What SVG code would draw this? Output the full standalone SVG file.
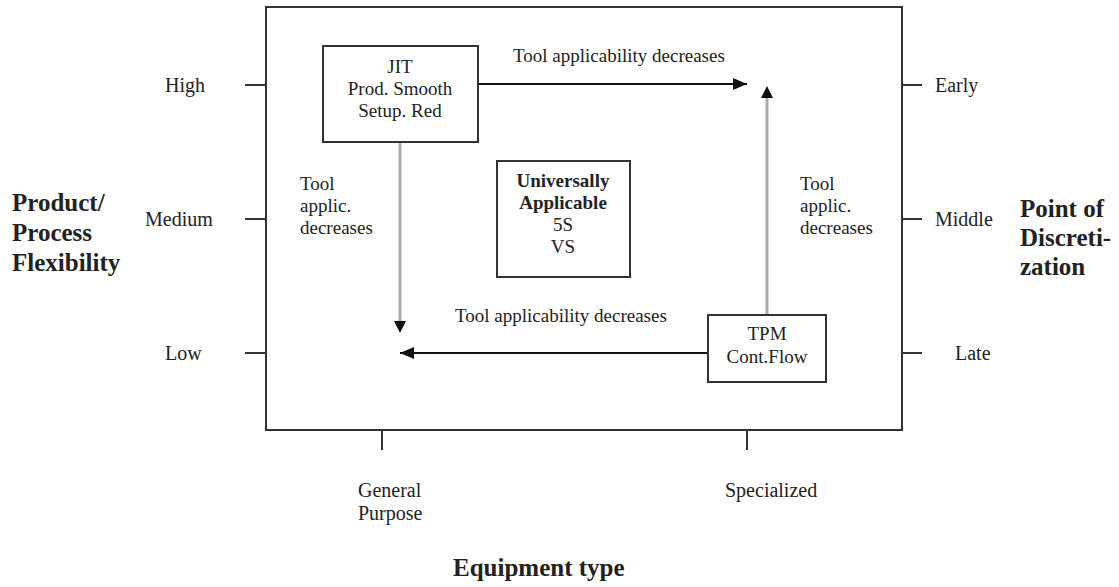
<svg xmlns="http://www.w3.org/2000/svg" width="1119" height="587" viewBox="0 0 1119 587">
  <defs>
    <style>
      .t { font-family: "Liberation Serif", "Times New Roman", serif; font-size: 19px; fill: #222; }
      .ax { font-family: "Liberation Serif", "Times New Roman", serif; font-size: 20px; fill: #222; }
      .b { font-family: "Liberation Serif", "Times New Roman", serif; font-size: 25px; font-weight: bold; fill: #222; }
      .bi { font-family: "Liberation Serif", "Times New Roman", serif; font-size: 19px; font-weight: bold; fill: #222; }
      .frame { fill: none; stroke: #333; stroke-width: 2; }
      .box { fill: #fff; stroke: #333; stroke-width: 2; }
      .tick { stroke: #333; stroke-width: 2; }
      .blk { stroke: #111; stroke-width: 2; fill: none; }
      .gry { stroke: #aaa; stroke-width: 3; fill: none; }
    </style>
    <marker id="head" viewBox="0 0 14 12" refX="14" refY="6" markerWidth="14" markerHeight="12" markerUnits="userSpaceOnUse" orient="auto">
      <path d="M0,0 L14,6 L0,12 Z" fill="#111"/>
    </marker>
  </defs>

  <!-- chart frame and axis ticks -->
  <g id="frame">
    <rect class="frame" x="266" y="7" width="636" height="423"/>
    <line class="tick" x1="245" y1="85" x2="266" y2="85"/>
    <line class="tick" x1="245" y1="219" x2="266" y2="219"/>
    <line class="tick" x1="245" y1="353" x2="266" y2="353"/>
    <line class="tick" x1="902" y1="85" x2="922" y2="85"/>
    <line class="tick" x1="902" y1="219" x2="922" y2="219"/>
    <line class="tick" x1="902" y1="353" x2="922" y2="353"/>
    <line class="tick" x1="382" y1="430" x2="382" y2="450"/>
    <line class="tick" x1="747" y1="430" x2="747" y2="450"/>
  </g>

  <!-- axis labels -->
  <g id="axis-left">
    <text class="ax" x="165" y="92">High</text>
    <text class="ax" x="145" y="226">Medium</text>
    <text class="ax" x="165" y="360">Low</text>
    <text class="b" x="12" y="211">Product/</text>
    <text class="b" x="12" y="241">Process</text>
    <text class="b" x="12" y="271">Flexibility</text>
  </g>
  <g id="axis-right">
    <text class="ax" x="935" y="92">Early</text>
    <text class="ax" x="935" y="226">Middle</text>
    <text class="ax" x="955" y="360">Late</text>
    <text class="b" x="1020" y="217">Point of</text>
    <text class="b" x="1020" y="246">Discreti-</text>
    <text class="b" x="1020" y="275">zation</text>
  </g>
  <g id="axis-bottom">
    <text class="ax" x="358" y="497">General</text>
    <text class="ax" x="358" y="520">Purpose</text>
    <text class="ax" x="725" y="497">Specialized</text>
    <text class="b" x="453" y="576">Equipment type</text>
  </g>

  <!-- connectors -->
  <g id="connectors">
    <line class="blk" x1="478" y1="84" x2="747" y2="84" marker-end="url(#head)"/>
    <line class="gry" x1="767" y1="315" x2="767" y2="98"/>
    <path d="M761,98 L767,86 L773,98 Z" fill="#111"/>
    <line class="gry" x1="400" y1="142" x2="400" y2="321"/>
    <path d="M394,321 L400,333 L406,321 Z" fill="#111"/>
    <line class="blk" x1="708" y1="353" x2="400" y2="353" marker-end="url(#head)"/>
    <text class="t" x="513" y="62">Tool applicability decreases</text>
    <text class="t" x="455" y="322">Tool applicability decreases</text>
    <text class="t" x="300" y="190">Tool</text>
    <text class="t" x="300" y="212">applic.</text>
    <text class="t" x="300" y="234">decreases</text>
    <text class="t" x="800" y="190">Tool</text>
    <text class="t" x="800" y="212">applic.</text>
    <text class="t" x="800" y="234">decreases</text>
  </g>

  <!-- nodes -->
  <g id="jit">
    <rect class="box" x="323" y="46" width="155" height="96"/>
    <text class="t" x="400" y="73" text-anchor="middle">JIT</text>
    <text class="t" x="400" y="95" text-anchor="middle">Prod. Smooth</text>
    <text class="t" x="400" y="117" text-anchor="middle">Setup. Red</text>
  </g>
  <g id="universal">
    <rect class="box" x="497" y="161" width="133" height="116"/>
    <text class="bi" x="563" y="187" text-anchor="middle">Universally</text>
    <text class="bi" x="563" y="209" text-anchor="middle">Applicable</text>
    <text class="t" x="563" y="231" text-anchor="middle">5S</text>
    <text class="t" x="563" y="253" text-anchor="middle">VS</text>
  </g>
  <g id="tpm">
    <rect class="box" x="708" y="315" width="118" height="67"/>
    <text class="t" x="767" y="340" text-anchor="middle">TPM</text>
    <text class="t" x="767" y="363" text-anchor="middle">Cont.Flow</text>
  </g>
</svg>
